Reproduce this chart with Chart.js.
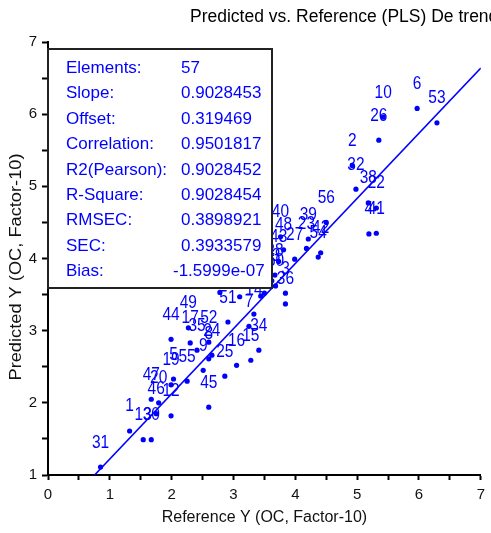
<!DOCTYPE html>
<html>
<head>
<meta charset="utf-8">
<script src="https://cdn.jsdelivr.net/npm/chart.js@4/dist/chart.umd.min.js"></script>
<style>
  body { margin: 0; background: #fff; }
  #wrap { width: 491px; height: 533px; position: relative; }
</style>
</head>
<body>
<div id="wrap"><canvas id="myChart"></canvas></div>
<script>
// sample numbers, reference values (x) and predicted values (y)
const sampleNo = [1, 2, 3, 4, 5, 6, 7, 8, 9, 10,
  11, 12, 13, 14, 15, 16, 17, 18, 19, 20,
  21, 22, 23, 24, 25, 26, 27, 28, 29, 30,
  31, 32, 33, 34, 35, 36, 37, 38, 39, 40,
  41, 42, 43, 44, 45, 46, 47, 48, 49, 50,
  51, 52, 53, 54, 55, 56, 57]
const referenceY = [1.32, 4.92, 3.84, 5.19, 2.03, 5.97, 3.25, 2.60, 2.51, 5.42,
  2.78, 1.99, 1.54, 3.33, 3.28, 3.05, 2.30, 3.10, 1.99, 1.79,
  3.44, 5.31, 4.18, 2.65, 2.86, 5.35, 3.99, 3.67, 3.50, 1.67,
  0.85, 4.98, 3.62, 3.41, 2.41, 3.84, 3.44, 5.18, 4.21, 3.76,
  5.31, 4.41, 3.73, 1.99, 2.60, 1.75, 1.67, 3.81, 2.27, 3.68,
  2.91, 2.60, 6.29, 4.37, 2.25, 4.50, 2.44]
const predictedY = [1.61, 5.29, 3.52, 4.34, 2.33, 6.08, 3.06, 2.61, 2.45, 5.96,
  3.53, 1.82, 1.49, 3.23, 2.59, 2.52, 2.83, 3.47, 2.25, 2.00,
  3.48, 4.70, 4.14, 2.66, 2.37, 5.64, 3.99, 3.77, 3.52, 1.49,
  1.11, 4.96, 3.69, 2.73, 2.73, 3.37, 3.95, 4.77, 4.27, 4.30,
  4.35, 4.08, 3.96, 2.88, 1.94, 1.85, 2.05, 4.12, 3.04, 3.62,
  3.12, 2.84, 5.88, 4.02, 2.30, 4.50, 3.84]

// fit statistics shown in the box
const statNames = ['Elements:', 'Slope:', 'Offset:', 'Correlation:', 'R2(Pearson):',
  'R-Square:', 'RMSEC:', 'SEC:', 'Bias:']
const statValues = ['57', '0.9028453', '0.319469', '0.9501817', '0.9028452',
  '0.9028454', '0.3898921', '0.3933579', '-1.5999e-07']
const slope = 0.9028453
const offset = 0.319469

const xTicks = [0, 1, 2, 3, 4, 5, 6, 7]
const yTicks = [1, 2, 3, 4, 5, 6, 7]

const blue = '#0000ff'
const font = '"Liberation Sans", Arial, sans-serif'

const points = referenceY.map((x, i) => ({ x: x, y: predictedY[i] }))

// regression line from the bottom of the y axis to the right end of x
const yMin = yTicks[0], xMax = xTicks[xTicks.length - 1]
const fitLine = [
  { x: (yMin - offset) / slope, y: yMin },
  { x: xMax, y: offset + slope * xMax }
]

// sample number above each point (slightly tall text)
const pointLabels = {
  id: 'pointLabels',
  afterDatasetsDraw(chart) {
    const ctx = chart.ctx
    const meta = chart.getDatasetMeta(0)
    ctx.save()
    ctx.font = '15.5px ' + font
    ctx.fillStyle = blue
    ctx.textAlign = 'center'
    ctx.textBaseline = 'alphabetic'
    meta.data.forEach((pt, i) => {
      ctx.save()
      ctx.translate(pt.x, pt.y - 19.5)
      ctx.scale(1, 1.13)
      ctx.fillText(sampleNo[i], 0, 0)
      ctx.restore()
    })
    ctx.restore()
  }
}

// stats box, chart title and y axis title
const statsBox = {
  id: 'statsBox',
  afterDraw(chart) {
    const ctx = chart.ctx
    const left = chart.chartArea.left
    ctx.save()
    ctx.fillStyle = '#fff'
    ctx.fillRect(left, 49, 224, 239)
    ctx.strokeStyle = '#222'
    ctx.lineWidth = 2
    ctx.strokeRect(left, 49, 224, 239)

    ctx.font = '17px ' + font
    ctx.fillStyle = blue
    ctx.textBaseline = 'alphabetic'
    statNames.forEach((name, i) => {
      const y = 73 + i * 25.4
      ctx.fillText(name, left + 18, y)
      const vx = statValues[i].length > 9 ? left + 125 : left + 133
      ctx.fillText(statValues[i], vx, y)
    })

    ctx.fillStyle = '#000'
    ctx.font = '17.5px ' + font
    ctx.textBaseline = 'middle'
    ctx.fillText('Predicted vs. Reference (PLS) De trend', 190, 17)

    ctx.fillStyle = '#111'
    ctx.font = '16px ' + font
    ctx.textAlign = 'center'
    ctx.translate(17, 267)
    ctx.rotate(-Math.PI / 2)
    ctx.scale(1.14, 1)
    ctx.fillText('Predicted Y (OC, Factor-10)', 0, 0)
    ctx.restore()
  }
}

const axisTicks = (vals) => ({
  stepSize: 0.5,
  autoSkip: false,
  maxRotation: 0,
  color: '#111',
  font: { family: font, size: 15 },
  callback: v => vals.includes(v) ? String(v) : ''
})

const config = {
  type: 'scatter',
  data: {
    datasets: [{
      label: 'Samples',
      data: points,
      pointRadius: 2.6,
      pointBorderWidth: 0,
      backgroundColor: blue,
      borderColor: blue
    }, {
      label: 'Fit',
      data: fitLine,
      showLine: true,
      pointRadius: 0,
      borderColor: blue,
      borderWidth: 1.6
    }]
  },
  options: {
    responsive: true,
    maintainAspectRatio: false,
    animation: false,
    events: [],
    layout: { padding: { top: 42, right: 7, left: 0, bottom: 0 } },
    plugins: { legend: { display: false }, tooltip: { enabled: false } },
    scales: {
      x: {
        type: 'linear',
        min: 0, max: 7,
        afterFit: s => { s.height = 58 },
        border: { display: true, color: '#000', width: 2 },
        grid: { drawOnChartArea: false, tickLength: 5, tickWidth: 2, tickColor: '#000' },
        ticks: { ...axisTicks(xTicks), padding: 6 },
        title: {
          display: true,
          text: 'Reference Y (OC, Factor-10)',
          color: '#111',
          font: { family: font, size: 16 },
          padding: { top: 0, bottom: 6 }
        }
      },
      y: {
        type: 'linear',
        min: 1, max: 7,
        afterFit: s => { s.width = 48 },
        border: { display: true, color: '#000', width: 2 },
        grid: { drawOnChartArea: false, tickLength: 6, tickWidth: 2, tickColor: '#000' },
        ticks: { ...axisTicks(yTicks), padding: 5 }
      }
    }
  },
  plugins: [pointLabels, statsBox]
}

var myChart = new Chart(document.getElementById('myChart'), config)
</script>
</body>
</html>
